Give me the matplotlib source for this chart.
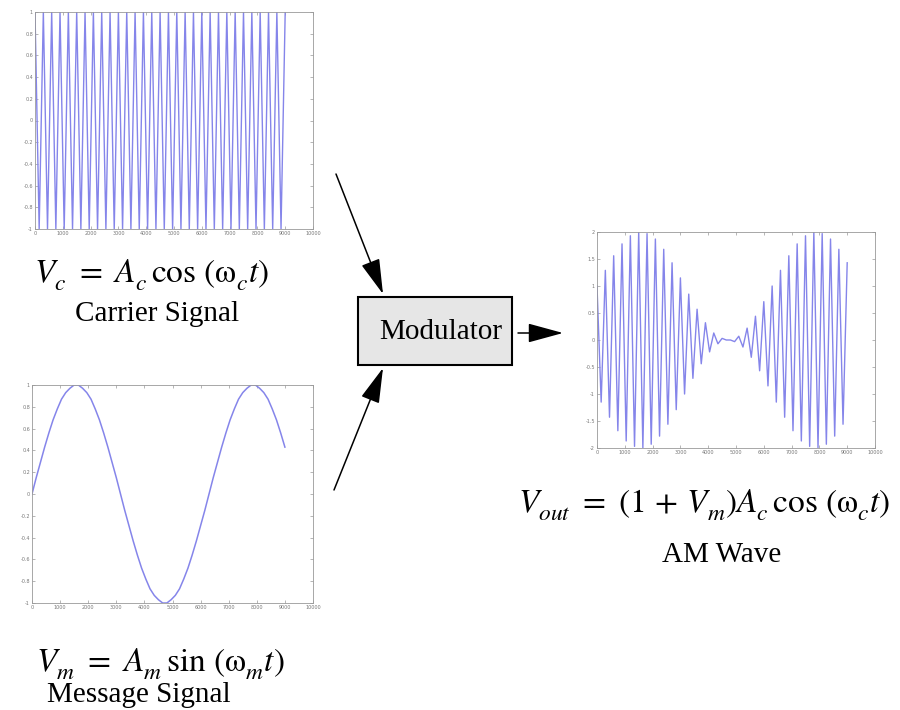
import matplotlib
matplotlib.use("Agg")
import matplotlib.pyplot as plt
import matplotlib._mathtext as mathtext_internals
import numpy as np
from matplotlib.patches import Rectangle

plt.rcParams['font.family'] = ['Liberation Serif', 'DejaVu Serif']
plt.rcParams['mathtext.fontset'] = 'stix'
# drop the subscripts a bit lower, like the FrameMaker equations
mathtext_internals.STIXFontConstants.sub1 = 0.55

# sample grid (time index) shared by the three MATLAB plots
sample_t = np.arange(0, 9001, 150)

# carrier: successive extremes
carrier_v = [1, -1, 1, -1, 1, -1, 1, -1, 1, -1, 1, -1, 1, -1, 1, -1, 1, -1, 1, -1,
             1, -1, 1, -1, 1, -1, 1, -1, 1, -1, 1, -1, 1, -1, 1, -1, 1, -1, 1, -1,
             1, -1, 1, -1, 1, -1, 1, -1, 1, -1, 1, -1, 1, -1, 1, -1, 1, -1, 1, -1, 1]

# message signal
message_v = [0.00, 0.15, 0.29, 0.43, 0.56, 0.68, 0.78, 0.87, 0.93, 0.97,
             1.00, 1.00, 0.97, 0.93, 0.87, 0.78, 0.68, 0.56, 0.43, 0.29,
             0.15, 0.00, -0.15, -0.29, -0.43, -0.56, -0.68, -0.78, -0.87, -0.93,
             -0.97, -1.00, -1.00, -0.97, -0.93, -0.87, -0.78, -0.68, -0.56, -0.43,
             -0.29, -0.15, 0.00, 0.15, 0.29, 0.43, 0.56, 0.68, 0.78, 0.87,
             0.93, 0.97, 1.00, 1.00, 0.97, 0.93, 0.87, 0.78, 0.68, 0.56, 0.43]

# AM wave extremes
am_v = [1.00, -1.15, 1.29, -1.43, 1.56, -1.68, 1.78, -1.87, 1.93, -1.97,
        2.00, -2.00, 1.97, -1.93, 1.87, -1.78, 1.68, -1.56, 1.43, -1.29,
        1.15, -1.00, 0.85, -0.71, 0.57, -0.44, 0.32, -0.22, 0.13, -0.07,
        0.03, 0.00, 0.00, -0.03, 0.07, -0.13, 0.22, -0.32, 0.44, -0.57,
        0.71, -0.85, 1.00, -1.15, 1.29, -1.43, 1.56, -1.68, 1.78, -1.87,
        1.93, -1.97, 2.00, -2.00, 1.97, -1.93, 1.87, -1.78, 1.68, -1.56, 1.43]

x_ticks = [0, 1000, 2000, 3000, 4000, 5000, 6000, 7000, 8000, 9000, 10000]
unit_ticks = [-1, -0.8, -0.6, -0.4, -0.2, 0, 0.2, 0.4, 0.6, 0.8, 1]
am_ticks = [-2, -1.5, -1, -0.5, 0, 0.5, 1, 1.5, 2]

line_col = '#8585ea'

fig = plt.figure(figsize=(9, 7.1), dpi=100)

# overlay in pixel coordinates for the block diagram
ov = fig.add_axes([0, 0, 1, 1])
ov.set_xlim(0, 900)
ov.set_ylim(710, 0)
ov.axis('off')


def matlab_axes(rect, yticks):
    ax = fig.add_axes(rect)
    ax.set_xlim(0, 10000)
    ax.set_ylim(yticks[0], yticks[-1])
    ax.set_xticks(x_ticks)
    ax.set_xticklabels(['{:g}'.format(v) for v in x_ticks])
    ax.set_yticks(yticks)
    ax.set_yticklabels(['{:g}'.format(v) for v in yticks])
    ax.tick_params(direction='in', length=2.5, width=0.5, colors='#999999',
                   labelsize=3.5, labelcolor='#777777', pad=1.5,
                   labelfontfamily='DejaVu Sans', top=True, right=True)
    for s in ax.spines.values():
        s.set_color('#999999')
        s.set_linewidth(0.6)
    return ax


ax1 = matlab_axes([35 / 900, 1 - 229 / 710, 278 / 900, 217 / 710], unit_ticks)
ax1.plot(sample_t, carrier_v, color=line_col, lw=1.0)

ax2 = matlab_axes([32 / 900, 1 - 603 / 710, 281 / 900, 218 / 710], unit_ticks)
ax2.plot(sample_t, message_v, color=line_col, lw=1.1)

ax3 = matlab_axes([597 / 900, 1 - 448 / 710, 278 / 900, 216 / 710], am_ticks)
ax3.plot(sample_t, am_v, color=line_col, lw=1.0)

# formulas and captions
fs_eq = 24
fs_cap = 21
ov.text(151, 283, r'$V_c\ =\ A_c\,\cos\,(\mathrm{\omega}_c t)$', fontsize=fs_eq, ha='center', va='baseline')
ov.text(157, 321, 'Carrier Signal', fontsize=fs_cap, ha='center', va='baseline')
ov.text(160, 672, r'$V_m\ =\ A_m\,\sin\,(\mathrm{\omega}_m t)$', fontsize=fs_eq, ha='center', va='baseline')
ov.text(139, 702, 'Message Signal', fontsize=fs_cap, ha='center', va='baseline')
ov.text(704, 513, r'$V_{out}\ =\ (1\,+\,V_m)A_c\,\cos\,(\mathrm{\omega}_c t)$', fontsize=fs_eq, ha='center', va='baseline')
ov.text(722, 562, 'AM Wave', fontsize=fs_cap, ha='center', va='baseline')

# modulator block
ov.add_patch(Rectangle((358, 297), 154, 68, facecolor='#e6e6e6', edgecolor='black', lw=1.5))
ov.text(441, 339, 'Modulator', fontsize=fs_cap, ha='center', va='baseline')

arrow = dict(arrowstyle='-|>,head_length=2.2,head_width=0.6', color='black',
             lw=1.1, shrinkA=0, shrinkB=0)
ov.annotate('', xy=(383, 294), xytext=(336, 174), arrowprops=arrow)
ov.annotate('', xy=(383, 368), xytext=(334, 490), arrowprops=arrow)
ov.annotate('', xy=(563, 333), xytext=(518, 333), arrowprops=arrow)

fig.savefig('out.png', dpi=100)
